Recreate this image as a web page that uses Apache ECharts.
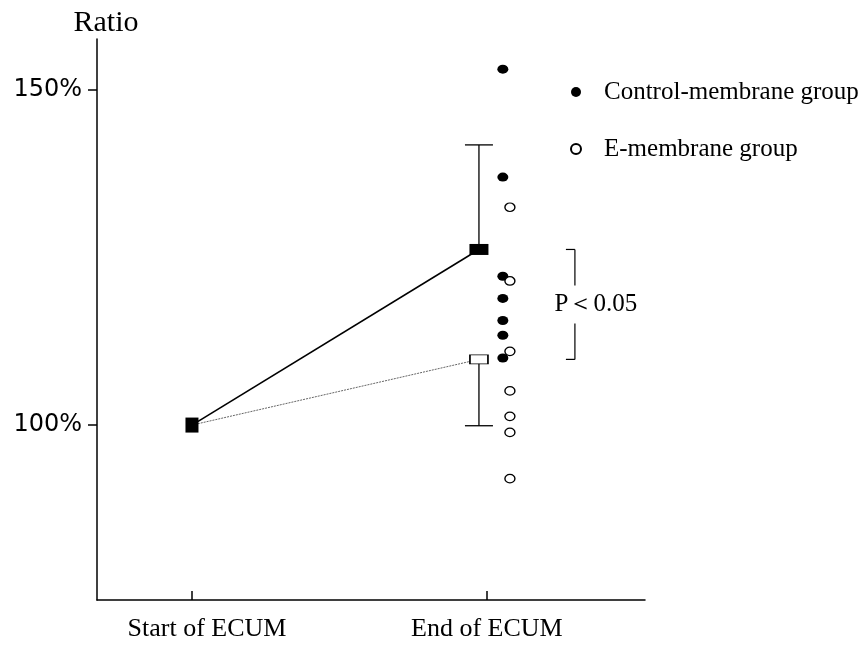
<!DOCTYPE html>
<html>
<head>
<meta charset="utf-8">
<script src="https://cdn.jsdelivr.net/npm/echarts@6/dist/echarts.min.js"></script>
<style>html,body{margin:0;padding:0;background:#fff;}#c{width:861px;height:647px;}</style>
</head>
<body>
<div id="c"></div>
<script>
// ---- data ----
const categories = ['Start of ECUM', 'End of ECUM'];
const controlMean = [100, 126.2];
const eMean = [100, 109.8];
const controlSD = [0, 15.6];   // drawn upward
const eSD = [0, 9.9];          // drawn downward
const controlPoints = [153.1, 137.0, 122.2, 118.9, 115.6, 113.4, 110.0];
const ePoints = [132.5, 121.5, 111.0, 105.1, 101.3, 98.9, 92.0];
const yTickValues = [100, 150];
const seriesNames = ['Control-membrane group', 'E-membrane group'];
const pText = 'P＜0.05';

// ---- layout helpers ----
const meanShift = [0, -0.027];
const ctrlDotShift = 0.054;
const eDotShift = 0.078;
const serif = '"Liberation Serif", "Times New Roman", serif';
const sans = '"DejaVu Sans", Arial, sans-serif';

const ctrlMeanData = controlMean.map((v, i) => ({
  value: [i + meanShift[i], v],
  symbol: 'rect',
  symbolSize: i === 0 ? [13, 15] : [19, 11],
  itemStyle: { color: '#000' }
}));
const eMeanData = eMean.map((v, i) => ({
  value: [i + meanShift[i], v],
  symbol: i === 0 ? 'none' : 'rect',
  symbolSize: [18, 9],
  itemStyle: { color: '#fff', borderColor: '#000', borderWidth: 1.2 }
}));
const errData = [
  [1 + meanShift[1], controlMean[1], controlMean[1] + controlSD[1]],
  [1 + meanShift[1], eMean[1], eMean[1] - eSD[1]]
];

const chart = echarts.init(document.getElementById('c'), null, { renderer: 'canvas' });
chart.setOption({
  animation: false,
  backgroundColor: '#fff',
  grid: { left: 97, right: 216, top: 39, bottom: 47, containLabel: false },
  legend: {
    orient: 'vertical',
    left: 565,
    top: 72,
    itemWidth: 10,
    itemHeight: 10,
    itemGap: 27,
    icon: 'circle',
    data: seriesNames,
    selectedMode: false,
    textStyle: { fontFamily: serif, fontSize: 25, color: '#000', lineHeight: 30, padding: [0, 0, 0, 18] }
  },
  xAxis: {
    type: 'value',
    min: -0.322,
    max: 1.536,
    splitLine: { show: false },
    axisLine: { show: true, onZero: false, lineStyle: { color: '#000', width: 1.5 } },
    axisTick: { show: true, inside: true, length: 9, customValues: [0, 1], lineStyle: { color: '#000', width: 1.5 } },
    axisLabel: {
      customValues: [0, 1],
      margin: 16,
      formatter: v => {
        const i = Math.round(v);
        return i === 0 ? '{s|' + categories[0] + '}' : '{e|' + categories[1] + '}';
      },
      rich: {
        s: { fontFamily: serif, fontSize: 26, color: '#000', padding: [0, 0, 0, 30] },
        e: { fontFamily: serif, fontSize: 26, color: '#000' }
      }
    }
  },
  yAxis: {
    type: 'value',
    min: 73.9,
    max: 157.6,
    name: 'Ratio',
    nameLocation: 'end',
    nameGap: 1,
    nameTextStyle: { fontFamily: serif, fontSize: 30, color: '#000', padding: [0, 0, 0, 18] },
    splitLine: { show: false },
    axisLine: { show: true, onZero: false, lineStyle: { color: '#000', width: 1.5 } },
    axisTick: { show: true, inside: false, length: 9, customValues: yTickValues, lineStyle: { color: '#000', width: 1.5 } },
    axisLabel: {
      customValues: yTickValues,
      margin: 15,
      fontFamily: sans,
      fontSize: 24,
      color: '#000',
      formatter: v => v + '%'
    }
  },
  series: [
    {
      type: 'custom',
      name: 'err',
      z: 1,
      data: errData,
      renderItem: (params, api) => {
        const p0 = api.coord([api.value(0), api.value(1)]);
        const p1 = api.coord([api.value(0), api.value(2)]);
        const half = 14;
        return {
          type: 'group',
          children: [
            { type: 'line', shape: { x1: p0[0], y1: p0[1], x2: p1[0], y2: p1[1] }, style: { stroke: '#000', lineWidth: 1.3 } },
            { type: 'line', shape: { x1: p1[0] - half, y1: p1[1], x2: p1[0] + half, y2: p1[1] }, style: { stroke: '#000', lineWidth: 1.3 } }
          ]
        };
      }
    },
    {
      type: 'line',
      name: 'E mean',
      z: 3,
      data: eMeanData,
      lineStyle: { color: '#666', width: 1, type: [2, 1] }
    },
    {
      type: 'line',
      name: 'Control mean',
      z: 4,
      data: ctrlMeanData,
      lineStyle: { color: '#000', width: 1.6 }
    },
    {
      type: 'scatter',
      name: seriesNames[0],
      z: 5,
      symbol: 'circle',
      symbolSize: [11, 9],
      itemStyle: { color: '#000', opacity: 1 },
      data: controlPoints.map(v => [1 + ctrlDotShift, v])
    },
    {
      type: 'scatter',
      name: seriesNames[1],
      z: 5,
      symbol: 'circle',
      symbolSize: [10, 8.5],
      itemStyle: { color: '#fff', borderColor: '#000', borderWidth: 1.3, opacity: 1 },
      data: ePoints.map(v => [1 + eDotShift, v])
    },
    {
      type: 'custom',
      name: 'bracket',
      z: 2,
      data: [[1, controlMean[1], eMean[1]]],
      renderItem: (params, api) => {
        const top = api.coord([api.value(0), api.value(1)]);
        const bot = api.coord([api.value(0), api.value(2)]);
        const xv = top[0] + 88;
        const xl = xv - 9;
        const mid = (top[1] + bot[1]) / 2;
        const gap = 19;
        const st = { stroke: '#000', lineWidth: 1.2 };
        return {
          type: 'group',
          children: [
            { type: 'line', shape: { x1: xl, y1: top[1], x2: xv, y2: top[1] }, style: st },
            { type: 'line', shape: { x1: xv, y1: top[1], x2: xv, y2: mid - gap }, style: st },
            { type: 'line', shape: { x1: xv, y1: mid + gap, x2: xv, y2: bot[1] }, style: st },
            { type: 'line', shape: { x1: xl, y1: bot[1], x2: xv, y2: bot[1] }, style: st },
            { type: 'text', x: xv + 21, y: mid, style: { text: pText, fill: '#000', font: '25px ' + serif, align: 'center', verticalAlign: 'middle' } }
          ]
        };
      }
    }
  ]
});
</script>
</body>
</html>
